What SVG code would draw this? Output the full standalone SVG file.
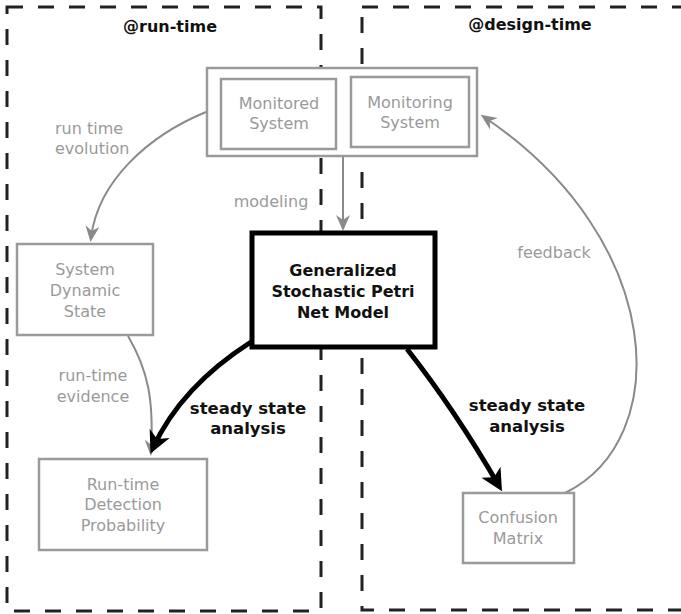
<svg xmlns="http://www.w3.org/2000/svg" width="681" height="614" viewBox="0 0 681 614">
  <style>
    .region { fill: none; stroke: #222; stroke-width: 3; stroke-dasharray: 16 15; }
    .box { fill: #fff; stroke: #9a9a9a; stroke-width: 2.5; }
    .main { fill: #fff; stroke: #000; stroke-width: 5; }
    .lbl { font-family: "DejaVu Sans", Verdana, sans-serif; font-size: 16px; fill: #9a9a9a; text-anchor: middle; }
    .blbl { font-family: "DejaVu Sans", Verdana, sans-serif; font-size: 16px; font-weight: bold; fill: #111; text-anchor: middle; }
    .thin { fill: none; stroke: #8a8a8a; stroke-width: 2; }
    .thick { fill: none; stroke: #000; stroke-width: 5; }
  </style>
  <defs>
    <marker id="headGrey" viewBox="-14 -8 19 16" markerWidth="19" markerHeight="16" refX="0" refY="0" orient="auto" markerUnits="userSpaceOnUse">
      <path d="M4,0 L-12,-7 L-7,0 L-12,7 Z" fill="#8a8a8a"/>
    </marker>
    <marker id="headBlack" viewBox="-18 -12 26 24" markerWidth="26" markerHeight="24" refX="0" refY="0" orient="auto" markerUnits="userSpaceOnUse">
      <path d="M6,0 L-16,-11 L-10,0 L-16,11 Z" fill="#000"/>
    </marker>
  </defs>

  <rect width="681" height="614" fill="#fff"/>

  <!-- dashed regions -->
  <g id="regions">
    <rect class="region" x="7" y="7" width="314" height="604"/>
    <rect class="region" x="362" y="7" width="340" height="603"/>
    <text class="blbl" x="170" y="32">@run-time</text>
    <text class="blbl" x="530" y="30">@design-time</text>
  </g>

  <!-- connectors -->
  <g id="connectors">
    <path class="thin" d="M343,157 L343,227" marker-end="url(#headGrey)"/>
    <path class="thin" d="M206,112 C150,135 98,180 91,238" marker-end="url(#headGrey)"/>
    <path class="thin" d="M128,336 C148,370 154,400 151,452" marker-end="url(#headGrey)"/>
    <path class="thin" d="M565,493 C674,440 667,240 484,117" marker-end="url(#headGrey)"/>
    <path class="thick" d="M251,342 C215,365 175,400 153,448" marker-end="url(#headBlack)"/>
    <path class="thick" d="M407,349 Q455,410 499,486" marker-end="url(#headBlack)"/>
    <text class="lbl" x="55" y="134" style="text-anchor:start">run time</text>
    <text class="lbl" x="55" y="154" style="text-anchor:start">evolution</text>
    <text class="lbl" x="271" y="207">modeling</text>
    <text class="lbl" x="93" y="381">run-time</text>
    <text class="lbl" x="93" y="402">evidence</text>
    <text class="lbl" x="554" y="258">feedback</text>
    <text class="blbl" x="248" y="414" style="font-size:16.5px">steady state</text>
    <text class="blbl" x="248" y="434" style="font-size:16.5px">analysis</text>
    <text class="blbl" x="527" y="411" style="font-size:16.5px">steady state</text>
    <text class="blbl" x="527" y="432" style="font-size:16.5px">analysis</text>
  </g>

  <!-- system under observation -->
  <g id="systems">
    <rect class="box" x="207" y="68" width="270" height="88"/>
    <rect class="box" x="221" y="79" width="115" height="70"/>
    <rect class="box" x="351" y="77" width="118" height="70"/>
    <text class="lbl" x="279" y="109">Monitored</text>
    <text class="lbl" x="279" y="129">System</text>
    <text class="lbl" x="410" y="108">Monitoring</text>
    <text class="lbl" x="410" y="128">System</text>
  </g>

  <g id="gspn">
    <rect class="main" x="252" y="233" width="183" height="114"/>
    <text class="blbl" x="343" y="276">Generalized</text>
    <text class="blbl" x="343" y="297">Stochastic Petri</text>
    <text class="blbl" x="343" y="318">Net Model</text>
  </g>

  <g id="dynamic-state">
    <rect class="box" x="17" y="244" width="136" height="91"/>
    <text class="lbl" x="85" y="275">System</text>
    <text class="lbl" x="85" y="296">Dynamic</text>
    <text class="lbl" x="85" y="317">State</text>
  </g>

  <g id="detection-probability">
    <rect class="box" x="39" y="459" width="168" height="91"/>
    <text class="lbl" x="123" y="490">Run-time</text>
    <text class="lbl" x="123" y="510">Detection</text>
    <text class="lbl" x="123" y="531">Probability</text>
  </g>

  <g id="confusion-matrix">
    <rect class="box" x="463" y="493" width="111" height="70"/>
    <text class="lbl" x="518" y="523">Confusion</text>
    <text class="lbl" x="518" y="544">Matrix</text>
  </g>
</svg>
